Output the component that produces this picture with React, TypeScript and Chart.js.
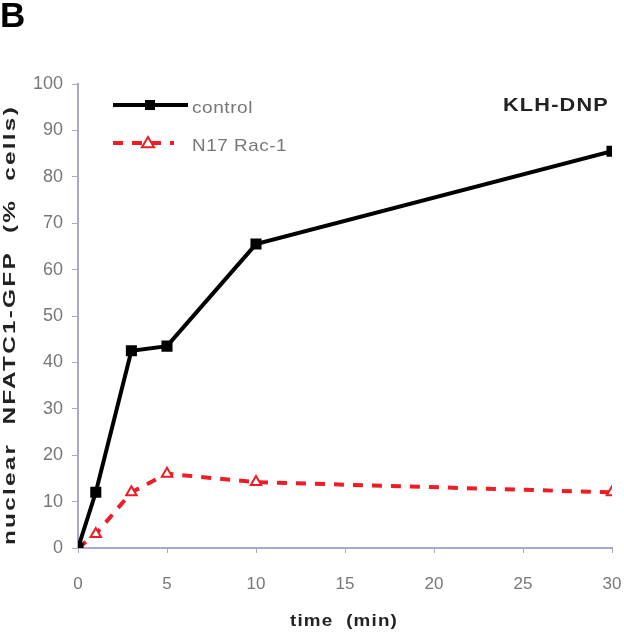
import React, { useEffect, useRef } from "react";
import { Chart, registerables } from "chart.js";

Chart.register(...registerables);

const timePoints = [0, 1, 3, 5, 10, 30];
const controlValues = [0, 12, 42.5, 43.5, 65.5, 85.5];
const n17Values = [0, 3, 12, 16, 14.2, 12];
const seriesNames = ["control", "N17 Rac-1"];
const xTicks = [0, 5, 10, 15, 20, 25, 30];
const yTitle = "nuclear  NFATC1-GFP  (%  cells)";
const xTitle = "time  (min)";
const panelLabel = "B";
const annotation = "KLH-DNP";

const AXIS_COLOR = "#a8a8c8";
const TICK_COLOR = "#777777";
const FONT = "'Liberation Sans', Arial, sans-serif";

function fitText(
  ctx: CanvasRenderingContext2D,
  text: string,
  font: string,
  spacing: number,
  x: number,
  y: number,
  target: number,
  align: "center" | "left",
  color: string,
  rotate = false
) {
  ctx.save();
  ctx.font = font;
  (ctx as any).letterSpacing = spacing + "px";
  const w = ctx.measureText(text).width;
  const s = target / w;
  ctx.translate(x, y);
  if (rotate) ctx.rotate(-Math.PI / 2);
  ctx.scale(s, 1);
  ctx.textAlign = align;
  ctx.textBaseline = "middle";
  ctx.fillStyle = color;
  ctx.fillText(text, 0, 0);
  ctx.restore();
}

const decorPlugin = {
  id: "decor",
  afterDraw(chart: any) {
    const ctx = chart.ctx;
    ctx.save();
    ctx.fillStyle = "#000";
    ctx.font = "bold 35px " + FONT;
    ctx.textAlign = "left";
    ctx.textBaseline = "alphabetic";
    ctx.fillText(panelLabel, 0, 27);
    ctx.restore();

    fitText(ctx, yTitle, "bold 16px " + FONT, 1.5, 11, 325, 440, "center", "#222", true);
    fitText(ctx, xTitle, "bold 16px " + FONT, 1, 344, 622, 108, "center", "#222");
    fitText(ctx, annotation, "bold 18px " + FONT, 1, 556, 106, 106, "center", "#222");

    const datasets = chart.data.datasets;
    const rows = [105, 143];
    const widths = [61, 95];
    datasets.forEach((ds: any, i: number) => {
      const y = rows[i];
      ctx.save();
      ctx.strokeStyle = ds.borderColor;
      ctx.lineWidth = ds.borderWidth;
      ctx.setLineDash(ds.borderDash || []);
      ctx.beginPath();
      ctx.moveTo(113, y);
      ctx.lineTo(i === 0 ? 188 : 174, y);
      ctx.stroke();
      ctx.setLineDash([]);
      const mx = i === 0 ? 150 : 148;
      const r = ds.pointRadius;
      if (ds.pointStyle === "rect") {
        ctx.fillStyle = ds.pointBackgroundColor;
        ctx.fillRect(mx - r, y - r, 2 * r, 2 * r);
      } else {
        ctx.fillStyle = "#fff";
        ctx.strokeStyle = ds.pointBorderColor;
        ctx.lineWidth = 2;
        ctx.beginPath();
        ctx.moveTo(mx, y - r);
        ctx.lineTo(mx + r, y + r * 0.7);
        ctx.lineTo(mx - r, y + r * 0.7);
        ctx.closePath();
        ctx.fill();
        ctx.stroke();
      }
      ctx.restore();
      fitText(ctx, ds.label, "17px " + FONT, 0.5, 192, y + 3, widths[i], "left", TICK_COLOR);
    });
  },
};

export default function App() {
  const ref = useRef<HTMLCanvasElement | null>(null);
  useEffect(() => {
    if (!ref.current) return;
    const chart = new Chart(ref.current, {
      type: "line",
      data: {
        datasets: [
          {
            label: seriesNames[0],
            data: timePoints.map((t, i) => ({ x: t, y: controlValues[i] })),
            borderColor: "#000",
            borderWidth: 4,
            pointStyle: "rect",
            pointRadius: 5,
            pointBackgroundColor: "#000",
            pointBorderColor: "#000",
            tension: 0,
          },
          {
            label: seriesNames[1],
            data: timePoints.map((t, i) => ({ x: t, y: n17Values[i] })),
            borderColor: "#ee1c25",
            borderWidth: 4,
            borderDash: [10, 9],
            pointStyle: "triangle",
            pointRadius: 6,
            pointBorderWidth: 2,
            pointBackgroundColor: "#fff",
            pointBorderColor: "#ee1c25",
            tension: 0,
          },
        ],
      },
      options: {
        animation: false,
        responsive: false,
        maintainAspectRatio: false,
        layout: { padding: { left: 0, right: 12, top: 84, bottom: 0 } },
        plugins: { legend: { display: false }, tooltip: { enabled: false } },
        scales: {
          x: {
            type: "linear",
            min: 0,
            max: 30,
            afterBuildTicks: (scale: any) => {
              scale.ticks = xTicks.map((v) => ({ value: v }));
            },
            afterFit: (scale: any) => {
              scale.height = 91;
              scale.paddingLeft = 0;
              scale.paddingRight = 0;
            },
            grid: {
              display: true,
              drawOnChartArea: false,
              drawTicks: true,
              tickLength: 5,
              color: AXIS_COLOR,
            },
            border: { color: AXIS_COLOR, width: 2 },
            ticks: {
              color: TICK_COLOR,
              font: { family: FONT, size: 17 },
              padding: 21,
              maxRotation: 0,
              autoSkip: false,
            },
          },
          y: {
            min: 0,
            max: 100,
            afterFit: (scale: any) => {
              scale.width = 78;
              scale.paddingTop = 0;
              scale.paddingBottom = 0;
            },
            grid: {
              display: true,
              drawOnChartArea: false,
              drawTicks: true,
              tickLength: 6,
              color: AXIS_COLOR,
            },
            border: { color: AXIS_COLOR, width: 2 },
            ticks: {
              stepSize: 10,
              color: TICK_COLOR,
              font: { family: FONT, size: 18 },
              padding: 9,
            },
          },
        },
      },
      plugins: [decorPlugin],
    });
    return () => chart.destroy();
  }, []);
  return (
    <div style={{ position: "fixed", left: 0, top: 0, width: 624, height: 639, background: "#fff" }}>
      <canvas ref={ref} width={624} height={639} style={{ width: 624, height: 639 }} />
    </div>
  );
}
